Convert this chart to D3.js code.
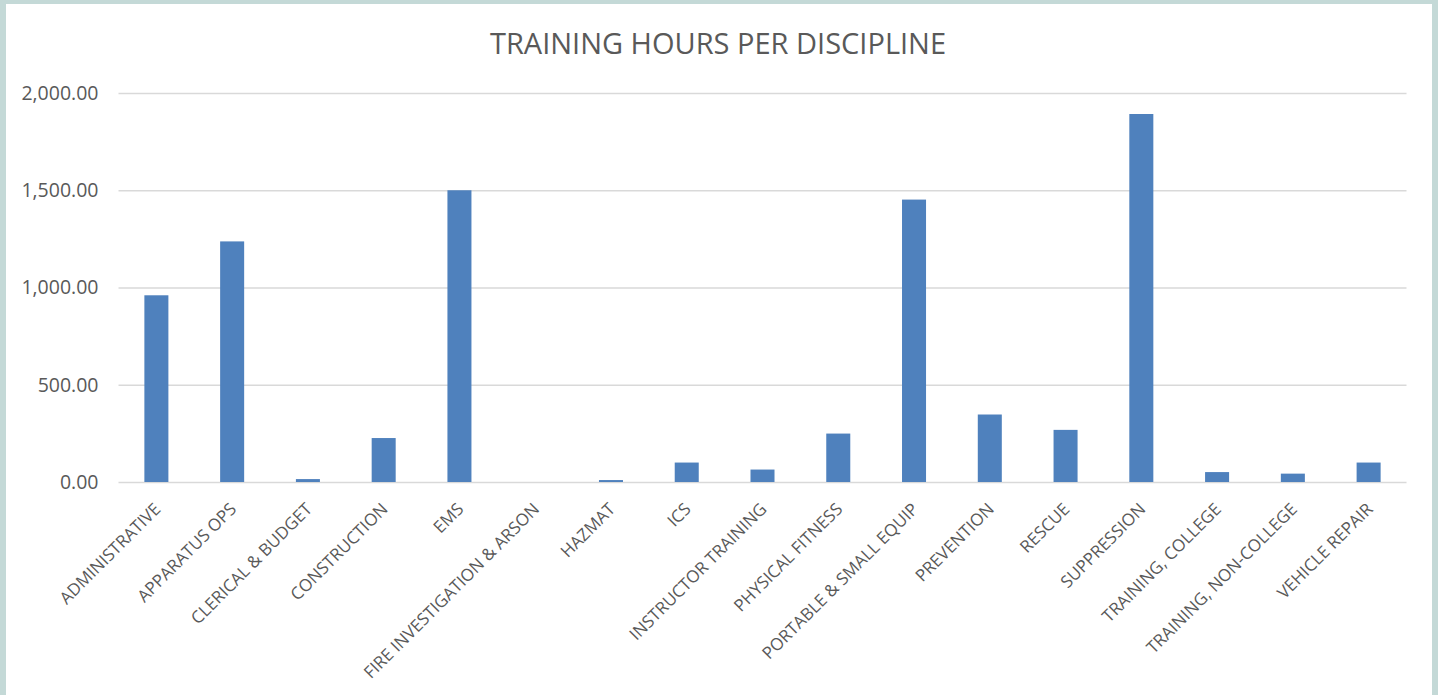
<!DOCTYPE html>
<html>
<head>
<meta charset="utf-8">
<script src="https://cdn.jsdelivr.net/npm/d3@7"></script>
<style>
  body { margin: 0; background: #c4d9d7; }
  #chart svg { display: block; }
</style>
</head>
<body>
<div id="chart"></div>
<script>
// Data
const categories = [
  'ADMINISTRATIVE', 'APPARATUS OPS', 'CLERICAL & BUDGET', 'CONSTRUCTION', 'EMS',
  'FIRE INVESTIGATION & ARSON', 'HAZMAT', 'ICS', 'INSTRUCTOR TRAINING', 'PHYSICAL FITNESS',
  'PORTABLE & SMALL EQUIP', 'PREVENTION', 'RESCUE', 'SUPPRESSION', 'TRAINING, COLLEGE',
  'TRAINING, NON-COLLEGE', 'VEHICLE REPAIR'
];
const hours = [960, 1237, 15, 226, 1500, 0, 10, 100, 64, 249, 1452, 347, 268, 1892, 51, 43, 100];
const yTicks = [0, 500, 1000, 1500, 2000];
const title = 'TRAINING HOURS PER DISCIPLINE';

// Dimensions
const dimensions = {
  width: 1438,
  height: 695,
  margin: { top: 93, bottom: 213, left: 118.5, right: 31.5 }
};
dimensions.ctrWidth = dimensions.width - dimensions.margin.left - dimensions.margin.right;
dimensions.ctrHeight = dimensions.height - dimensions.margin.top - dimensions.margin.bottom;

const svg = d3.select('#chart')
  .append('svg')
  .attr('width', dimensions.width)
  .attr('height', dimensions.height);

// white chart area inside the frame
svg.append('rect')
  .attr('x', 6)
  .attr('y', 4)
  .attr('width', dimensions.width - 12)
  .attr('height', dimensions.height - 4)
  .attr('fill', '#ffffff');

svg.append('text')
  .attr('x', 718)
  .attr('y', 54)
  .attr('text-anchor', 'middle')
  .attr('font-family', '"Open Sans", sans-serif')
  .attr('font-size', 29)
  .attr('fill', '#595959')
  .text(title);

const ctr = svg.append('g')
  .attr('transform', `translate(${dimensions.margin.left},${dimensions.margin.top})`);

// Scales
const xScale = d3.scaleBand()
  .domain(categories)
  .range([0, dimensions.ctrWidth])
  .paddingInner(0.683)
  .paddingOuter(0.683 / 2);

const yScale = d3.scaleLinear()
  .domain([0, 2000])
  .range([dimensions.ctrHeight, 0]);

// Gridlines + y labels
const yAxis = d3.axisLeft(yScale)
  .tickValues(yTicks)
  .tickFormat(d3.format(',.2f'))
  .tickSize(-dimensions.ctrWidth)
  .tickPadding(20);

const yGroup = ctr.append('g').call(yAxis);
yGroup.select('.domain').remove();
yGroup.selectAll('line')
  .attr('stroke', '#d9d9d9')
  .attr('stroke-width', 1.3);
yGroup.selectAll('text')
  .attr('font-family', '"Open Sans", sans-serif')
  .attr('font-size', 19.5)
  .attr('fill', '#595959');

// Bars
ctr.selectAll('rect.bar')
  .data(hours)
  .join('rect')
  .attr('class', 'bar')
  .attr('x', (d, i) => xScale(categories[i]))
  .attr('y', (d) => yScale(d))
  .attr('width', xScale.bandwidth())
  .attr('height', (d) => dimensions.ctrHeight - yScale(d))
  .attr('fill', '#4f81bd');

// X labels
const xAxis = d3.axisBottom(xScale).tickSize(0).tickPadding(0);
const xGroup = ctr.append('g')
  .attr('transform', `translate(0,${dimensions.ctrHeight})`)
  .call(xAxis);
xGroup.select('.domain').remove();
xGroup.selectAll('text')
  .attr('font-family', '"Open Sans", sans-serif')
  .attr('font-size', 17)
  .attr('fill', '#595959')
  .attr('text-anchor', 'end')
  .attr('dy', '0.35em')
  .attr('y', 0)
  .attr('transform', 'translate(1,24) rotate(-45)');
</script>
</body>
</html>
